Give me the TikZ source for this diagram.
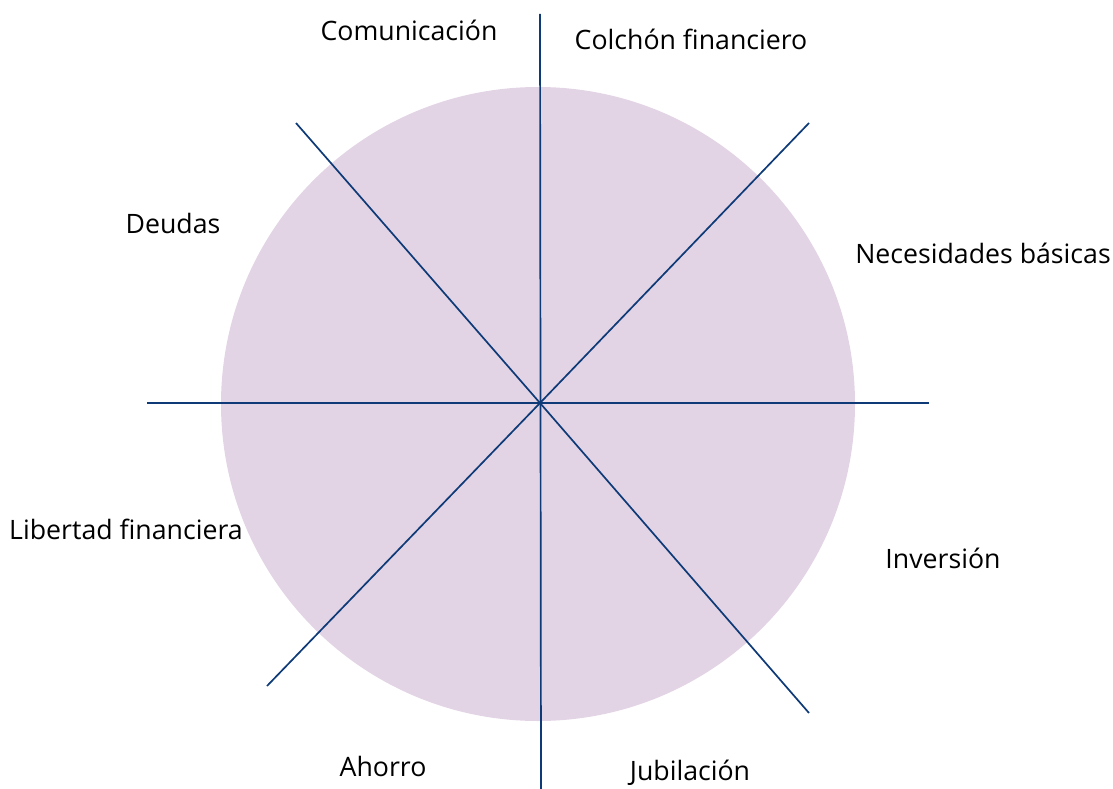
\documentclass[tikz,border=0pt]{standalone}
\usepackage{fontspec}
\setmainfont{Open Sans}
\definecolor{wheelfill}{HTML}{E3D4E5}
\definecolor{spoke}{HTML}{0E3A78}
\begin{document}
\begin{tikzpicture}[x=1pt,y=-1pt,
  spokeline/.style={draw=spoke,line width=1.7pt},
  lbl/.style={font=\fontsize{26.7}{32}\selectfont,text=black,inner sep=0pt}]
\useasboundingbox (0,0) rectangle (1113,789);
\coordinate (c) at (540,403);
\fill[wheelfill] (538,404) circle (317);
\coordinate (n) at (540,14);
\coordinate (s) at (541,789);
\coordinate (w) at (147,403);
\coordinate (e) at (929,403);
\coordinate (ne) at (809,123);
\coordinate (sw) at (267,686);
\coordinate (nw) at (296,123);
\coordinate (se) at (809,713);
\draw[spokeline] (n) -- (s);
\draw[spokeline] (w) -- (e);
\draw[spokeline] (ne) -- (c) -- (sw);
\draw[spokeline] (nw) -- (c) -- (se);
\node[lbl] (t1) at (409,30) {Comunicación};
\node[lbl] (t2) at (691,39) {Colchón financiero};
\node[lbl] (t3) at (173,223) {Deudas};
\node[lbl] (t4) at (983,253) {Necesidades básicas};
\node[lbl] (t5) at (126,529) {Libertad financiera};
\node[lbl] (t6) at (943,558) {Inversión};
\node[lbl] (t7) at (383,766) {Ahorro};
\node[lbl] (t8) at (690,773) {Jubilación};
\end{tikzpicture}
\end{document}
